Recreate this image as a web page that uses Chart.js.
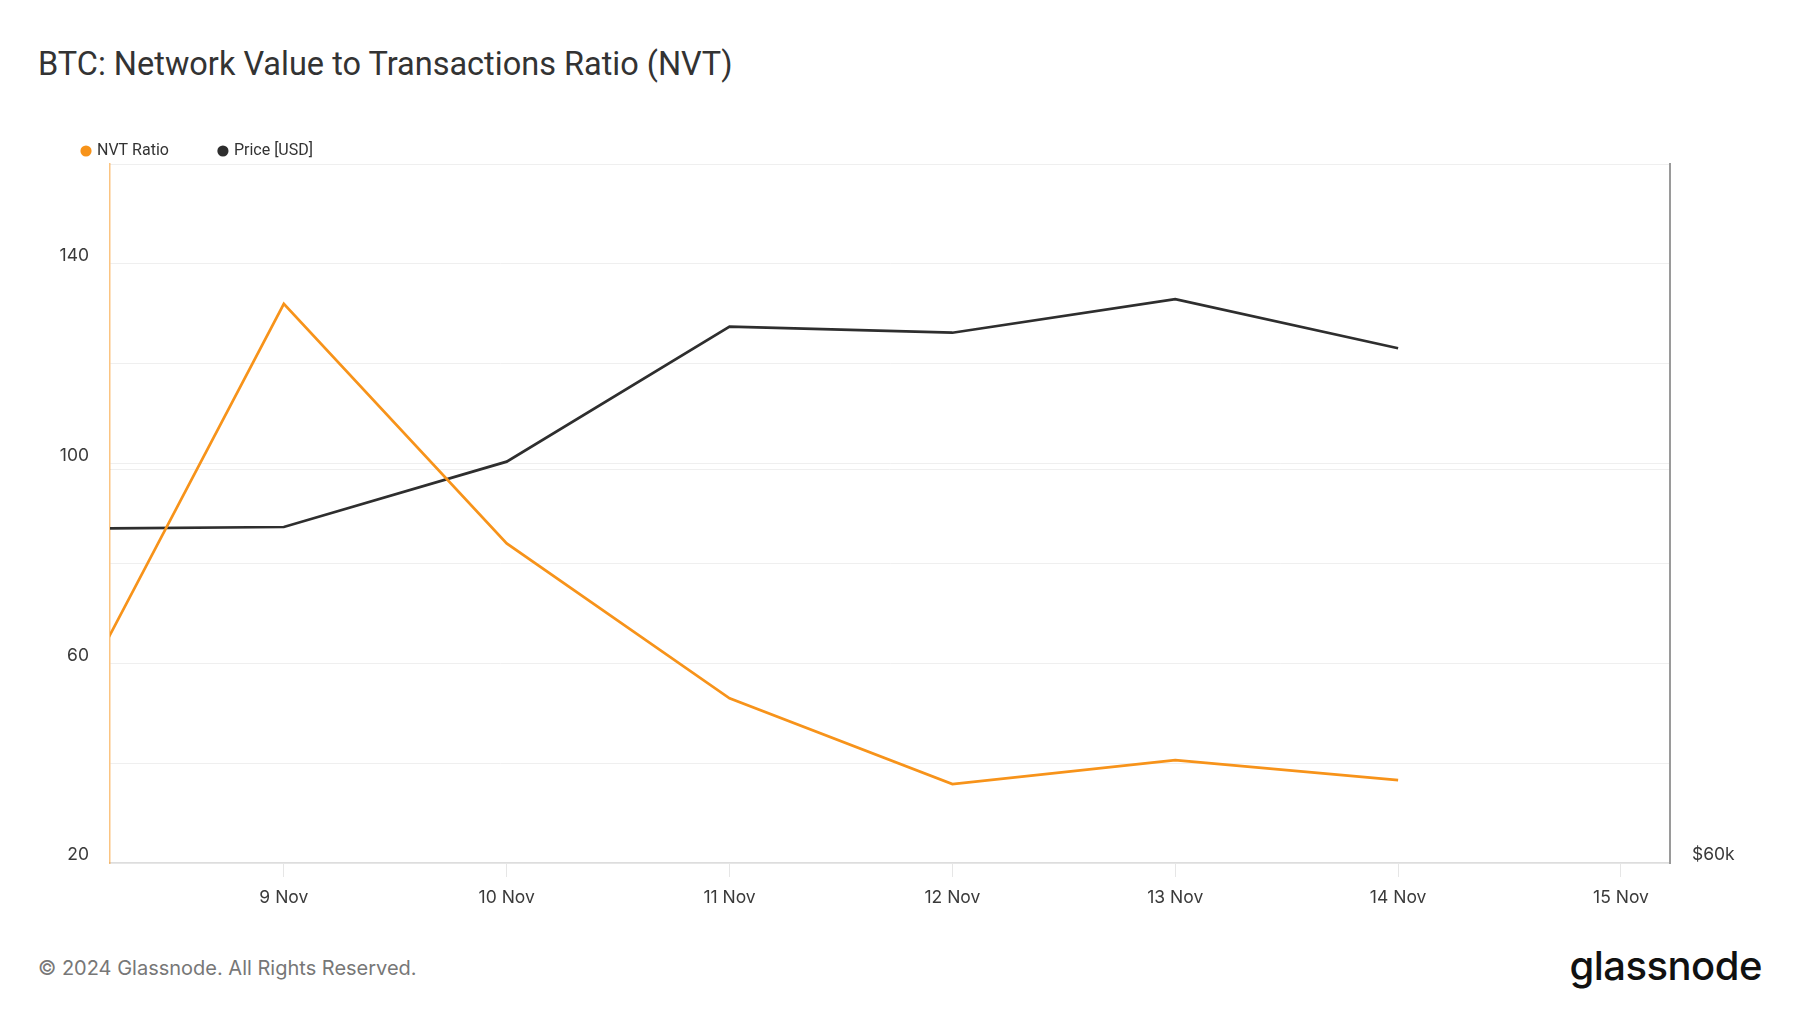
<!DOCTYPE html>
<html>
<head>
<meta charset="utf-8">
<script src="https://cdn.jsdelivr.net/npm/chart.js@4.4.1/dist/chart.umd.min.js"></script>
<style>
  body { margin: 0; width: 1800px; height: 1013px; background: #fff; position: relative; overflow: hidden; }
  #title { position: absolute; left: 38px; top: 45px; font: 400 32.5px Roboto, sans-serif; line-height: 38px; color: #333; }
  #wrap { position: absolute; left: 0; top: 92px; width: 1800px; height: 831px; }
  #footer { position: absolute; left: 38px; top: 956px; font: 400 20px Inter, sans-serif; line-height: 24px; color: #777; }
  #logo { position: absolute; right: 38px; top: 941px; font: 500 40px Inter, sans-serif; line-height: 50px; color: #111; letter-spacing: -0.5px; }
</style>
</head>
<body>
<div id="title">BTC: Network Value to Transactions Ratio (NVT)</div>
<div id="wrap"><canvas id="nvtChart"></canvas></div>
<div id="footer">© 2024 Glassnode. All Rights Reserved.</div>
<div id="logo">glassnode</div>
<script>
// data (day of November 2024)
const days = [8, 9, 10, 11, 12, 13, 14];
const nvtRatio = [47, 132, 84, 53, 35.8, 40.6, 36.6];
const priceUsd = [76600, 76700, 80450, 88800, 88400, 90600, 87400];

const xTickDays = [9, 10, 11, 12, 13, 14, 15];
const nvtTicks = [20, 40, 60, 80, 100, 120, 140, 160];
const nvtTickLabels = [20, 60, 100, 140];
const priceTicks = [60000, 80000, 100000];
const priceTickLabels = { 60000: '$60k' };

const nvtColor = '#f7931a';
const priceColor = '#2e2e2e';
const gridColor = '#efefef';
const tickFont = { family: 'Inter', size: 17.5 };

const ctx = document.getElementById('nvtChart').getContext('2d');
const chart = new Chart(ctx, {
  type: 'line',
  data: {
    datasets: [{
      label: 'NVT Ratio',
      data: days.map((d, i) => ({ x: d, y: nvtRatio[i] })),
      borderColor: nvtColor,
      backgroundColor: nvtColor,
      borderWidth: 2.7,
      pointRadius: 0,
      tension: 0,
      clip: 0,
      yAxisID: 'y'
    }, {
      label: 'Price [USD]',
      data: days.map((d, i) => ({ x: d, y: priceUsd[i] })),
      borderColor: priceColor,
      backgroundColor: priceColor,
      borderWidth: 2.7,
      pointRadius: 0,
      tension: 0,
      clip: 0,
      yAxisID: 'price'
    }]
  },
  options: {
    responsive: true,
    maintainAspectRatio: false,
    animation: false,
    layout: { padding: { left: 32, right: 0, top: 0, bottom: 0 } },
    plugins: {
      legend: {
        position: 'top',
        align: 'start',
        maxHeight: 72,
        labels: {
          usePointStyle: true,
          pointStyle: 'circle',
          boxWidth: 6,
          boxHeight: 6,
          padding: 51,
          color: '#333',
          font: { family: 'Roboto', size: 16 }
        }
      },
      tooltip: { enabled: false }
    },
    scales: {
      x: {
        type: 'linear',
        min: 8.22,
        max: 15.22,
        afterBuildTicks: scale => { scale.ticks = xTickDays.map(v => ({ value: v })); },
        afterFit: scale => { scale.height = 60; },
        grid: { drawOnChartArea: false, tickLength: 14, color: '#e6e6e6' },
        border: { color: '#dddddd', width: 1.5 },
        ticks: {
          padding: 10,
          color: '#3a3a3a',
          font: tickFont,
          maxRotation: 0,
          callback: v => v + ' Nov'
        }
      },
      y: {
        position: 'left',
        min: 20,
        max: 160,
        afterBuildTicks: scale => { scale.ticks = nvtTicks.map(v => ({ value: v })); },
        afterFit: scale => { scale.width = 78; },
        grid: { color: gridColor, drawTicks: false },
        border: { color: 'rgba(247,147,26,0.55)', width: 1.5 },
        ticks: {
          padding: 21,
          labelOffset: -8,
          color: '#3a3a3a',
          font: tickFont,
          callback: v => nvtTickLabels.includes(v) ? String(v) : ''
        }
      },
      price: {
        type: 'logarithmic',
        position: 'right',
        min: 60000,
        max: 100000,
        afterBuildTicks: scale => { scale.ticks = priceTicks.map(v => ({ value: v })); },
        afterFit: scale => { scale.width = 130; },
        grid: { color: gridColor, drawTicks: false },
        border: { color: '#9a9a9a', width: 2 },
        ticks: {
          padding: 22,
          labelOffset: -8,
          color: '#3a3a3a',
          font: tickFont,
          callback: v => priceTickLabels[v] || ''
        }
      }
    }
  }
});
</script>
</body>
</html>
